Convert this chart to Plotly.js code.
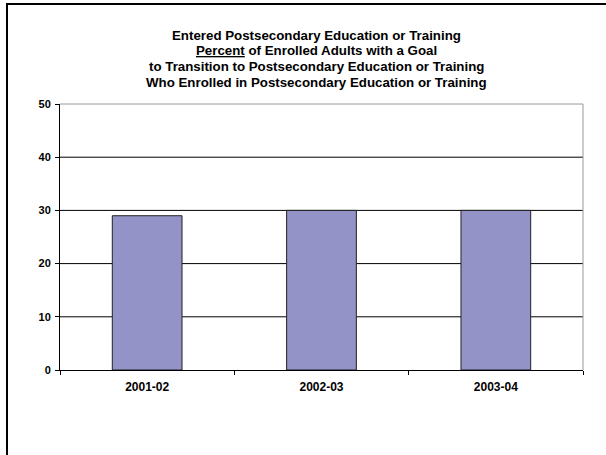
<!DOCTYPE html>
<html>
<head>
<meta charset="utf-8">
<script src="https://cdn.plot.ly/plotly-3.0.1.min.js"></script>
<style>
html,body{margin:0;padding:0;background:#fff;}
#chart{width:606px;height:455px;}
</style>
</head>
<body>
<div id="chart"></div>
<script>
const categories = ["2001-02", "2002-03", "2003-04"];
const percentEntered = [29, 30, 30];
const yTickValues = [0, 10, 20, 30, 40, 50];
const titleLines = [
  "Entered Postsecondary Education or Training",
  "<u>Percent</u> of Enrolled Adults with a Goal",
  "to Transition to Postsecondary Education or Training",
  "Who Enrolled in Postsecondary Education or Training"
];

const W = 606, H = 455;
const M = {l: 60, r: 23, t: 104, b: 85};
const pw = W - M.l - M.r, ph = H - M.t - M.b;
const px = v => (v - M.l) / pw;
const py = v => (H - M.b - v) / ph;

const FONT = "Liberation Sans, Arial, Helvetica, sans-serif";
const yMax = yTickValues[yTickValues.length - 1];

const trace = {
  type: "bar",
  x: categories,
  y: percentEntered,
  width: 0.4,
  marker: {color: "#9393C8", line: {color: "#222222", width: 1}},
  hoverinfo: "x+y"
};

const titleAnnotations = titleLines.map((t, i) => ({
  text: "<b>" + t + "</b>",
  xref: "paper", yref: "paper",
  x: px(316), y: py(35 + i * 15.7),
  xanchor: "center", yanchor: "middle",
  showarrow: false,
  font: {family: FONT, size: 13.3, color: "#000"}
}));

const gridShapes = yTickValues.filter(v => v > 0 && v < yMax).map(v => ({
  type: "line", xref: "paper", yref: "y", x0: 0, x1: 1, y0: v, y1: v,
  line: {color: "#000", width: 1}, layer: "below"
}));

const layout = {
  width: W, height: H,
  margin: M,
  paper_bgcolor: "#ffffff",
  plot_bgcolor: "#ffffff",
  showlegend: false,
  font: {family: FONT, color: "#000"},
  annotations: titleAnnotations,
  xaxis: {
    type: "category",
    tickson: "boundaries",
    ticks: "outside", ticklen: 4, tickcolor: "#000",
    showline: true, linecolor: "#000", linewidth: 1,
    showgrid: false, zeroline: false,
    tickfont: {family: FONT, size: 12, color: "#000", weight: "bold"},
    ticklabelstandoff: 6
  },
  yaxis: {
    range: [0, yMax],
    tickvals: yTickValues,
    ticktext: yTickValues.map(v => "<b>" + v + "</b>"),
    ticks: "outside", ticklen: 4, tickcolor: "#000",
    showline: true, linecolor: "#000", linewidth: 1,
    showgrid: false,
    zeroline: false,
    tickfont: {family: FONT, size: 11, color: "#000"},
    ticklabelstandoff: 2
  },
  shapes: gridShapes.concat([
    {type: "line", xref: "paper", yref: "paper", x0: 0, x1: 1, y0: 1, y1: 1,
     line: {color: "#9a9a9a", width: 1}, layer: "above"},
    {type: "line", xref: "paper", yref: "paper", x0: 1, x1: 1, y0: 0, y1: 1,
     line: {color: "#9a9a9a", width: 1}, layer: "above"},
    {type: "line", xref: "paper", yref: "paper", x0: px(6), x1: px(W), y0: py(4), y1: py(4),
     line: {color: "#000", width: 2}, layer: "above"},
    {type: "line", xref: "paper", yref: "paper", x0: px(7), x1: px(7), y0: py(3), y1: py(H),
     line: {color: "#000", width: 2}, layer: "above"}
  ])
};

Plotly.newPlot("chart", [trace], layout, {displayModeBar: false, staticPlot: true});
</script>
</body>
</html>
